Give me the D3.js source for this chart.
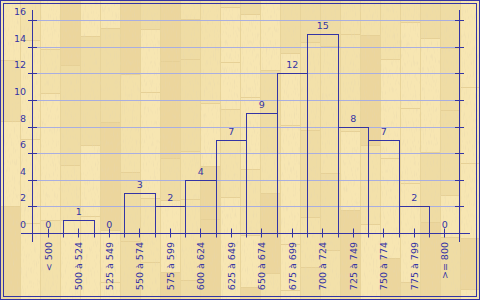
<!DOCTYPE html>
<html>
<head>
<meta charset="utf-8">
<script src="https://cdn.jsdelivr.net/npm/d3@7"></script>
<style>
  html, body { margin: 0; padding: 0; background: #efdba2; }
  svg { display: block; }
  text { font-family: "DejaVu Sans", sans-serif; fill: #3434a4; }
</style>
</head>
<body>
<div id="chart"></div>
<script>
// Données
const categories = ['< 500', '500 à 524', '525 à 549', '550 à 574', '575 à 599', '600 à 624',
  '625 à 649', '650 à 674', '675 à 699', '700 à 724', '725 à 749', '750 à 774', '775 à 799', '>= 800'];
const counts = [0, 1, 0, 3, 2, 4, 7, 9, 12, 15, 8, 7, 2, 0];
const yTicks = [0, 2, 4, 6, 8, 10, 12, 14, 16];

const W = 480, H = 300;
const blue = '#3434a4';

const svg = d3.select('#chart')
  .append('svg')
  .attr('width', W)
  .attr('height', H);

// Fond bois (texture décorative)
const defs = svg.append('defs');
const f = defs.append('filter').attr('id', 'grain').attr('x', 0).attr('y', 0).attr('width', 1).attr('height', 1);
f.append('feTurbulence').attr('type', 'fractalNoise').attr('baseFrequency', '0.9 0.15')
  .attr('numOctaves', 2).attr('seed', 3).attr('result', 'n');
f.append('feColorMatrix').attr('in', 'n').attr('type', 'matrix')
  .attr('values', '0 0 0 0 0.8  0 0 0 0 0.68  0 0 0 0 0.42  0 0 0 1.4 -0.75');

const planks = svg.append('g');
const shades = ['#f7e6b2', '#efdca4', '#ecd69d', '#f3e1aa'];
let seed = 7;
const rnd = () => { seed = (seed * 9301 + 49297) % 233280; return seed / 233280; };
for (let cx = 0; cx < W; cx += 20) {
  let cy = -Math.floor(rnd() * 60);
  while (cy < H) {
    const h = 40 + Math.floor(rnd() * 90);
    planks.append('rect')
      .attr('x', cx).attr('y', cy)
      .attr('width', 20).attr('height', h)
      .attr('fill', shades[Math.floor(rnd() * shades.length)]);
    planks.append('line')
      .attr('x1', cx).attr('x2', cx + 20)
      .attr('y1', cy + h - 0.5).attr('y2', cy + h - 0.5)
      .attr('stroke', '#e6d096').attr('stroke-width', 1);
    cy += h;
  }
  planks.append('line')
    .attr('x1', cx + 0.5).attr('x2', cx + 0.5)
    .attr('y1', 0).attr('y2', H)
    .attr('stroke', '#e8d49a').attr('stroke-width', 1);
}
svg.append('rect')
  .attr('width', W).attr('height', H)
  .attr('filter', 'url(#grain)');

// Bordure double
svg.append('rect')
  .attr('x', 0.5).attr('y', 0.5).attr('width', W - 1).attr('height', H - 1)
  .attr('fill', 'none').attr('stroke', blue);
svg.append('rect')
  .attr('x', 3.5).attr('y', 3.5).attr('width', W - 7).attr('height', H - 7)
  .attr('fill', 'none').attr('stroke', blue);

// Échelles
const x = d3.scaleBand()
  .domain(categories)
  .range([32.5, 459.5])
  .padding(0);

const y = d3.scaleLinear()
  .domain([0, 16])
  .range([233, 20.3]);

const py = v => Math.round(y(v)) + 0.5;

// Grille
svg.append('g')
  .selectAll('line')
  .data(yTicks.filter(v => v > 0))
  .join('line')
  .attr('x1', 32.5).attr('x2', 459.5)
  .attr('y1', d => py(d)).attr('y2', d => py(d))
  .attr('stroke', '#a9aee0').attr('stroke-width', 1);

// Barres (contours)
svg.append('g')
  .selectAll('rect')
  .data(categories.filter((c, i) => counts[i] > 0))
  .join('rect')
  .attr('x', d => Math.round(x(d)) + 0.5)
  .attr('y', d => py(counts[categories.indexOf(d)]))
  .attr('width', d => Math.round(x(d) + x.bandwidth()) - Math.round(x(d)))
  .attr('height', d => Math.round(y(0)) - Math.round(y(counts[categories.indexOf(d)])))
  .attr('fill', 'none')
  .attr('stroke', blue).attr('stroke-width', 1);

// Repères des bords de classes
const edges = categories.map(c => x(c)).concat([x(categories[categories.length - 1]) + x.bandwidth()]);
svg.append('g')
  .selectAll('line')
  .data(edges.slice(1, -1))
  .join('line')
  .attr('x1', d => Math.round(d) + 0.5).attr('x2', d => Math.round(d) + 0.5)
  .attr('y1', py(0)).attr('y2', py(0) + 4)
  .attr('stroke', blue);

// Repères centraux
svg.append('g')
  .selectAll('line')
  .data(categories)
  .join('line')
  .attr('x1', d => Math.round(x(d) + x.bandwidth() / 2) + 0.5)
  .attr('x2', d => Math.round(x(d) + x.bandwidth() / 2) + 0.5)
  .attr('y1', py(0) - 5).attr('y2', py(0) + 4)
  .attr('stroke', blue);

// Axe horizontal
svg.append('line')
  .attr('x1', 21).attr('x2', 470)
  .attr('y1', py(0)).attr('y2', py(0))
  .attr('stroke', blue);

// Axes verticaux gauche et droit
[32.5, 459.5].forEach(ax => {
  svg.append('line')
    .attr('x1', ax).attr('x2', ax)
    .attr('y1', 10).attr('y2', 242)
    .attr('stroke', blue);
  svg.append('g')
    .selectAll('line')
    .data(yTicks.filter(v => v > 0))
    .join('line')
    .attr('x1', ax - 4.5).attr('x2', ax + 4.5)
    .attr('y1', d => py(d)).attr('y2', d => py(d))
    .attr('stroke', blue);
});

// Étiquettes de l'axe Y
svg.append('g')
  .selectAll('text')
  .data(yTicks)
  .join('text')
  .attr('x', 26)
  .attr('y', d => y(d) - 5)
  .attr('text-anchor', 'end')
  .attr('font-size', '9.5px')
  .text(d => d);

// Valeurs au-dessus des barres
svg.append('g')
  .selectAll('text')
  .data(categories)
  .join('text')
  .attr('x', d => x(d) + x.bandwidth() / 2 + 0.5)
  .attr('y', (d, i) => y(counts[i]) - 5)
  .attr('text-anchor', 'middle')
  .attr('font-size', '9.5px')
  .text((d, i) => counts[i]);

// Étiquettes des catégories
svg.append('g')
  .selectAll('text')
  .data(categories)
  .join('text')
  .attr('transform', d => `translate(${x(d) + x.bandwidth() / 2 + 0.5}, 242) rotate(-90)`)
  .attr('text-anchor', 'end')
  .attr('dominant-baseline', 'central')
  .attr('font-size', '9.5px')
  .text(d => d);
</script>
</body>
</html>
